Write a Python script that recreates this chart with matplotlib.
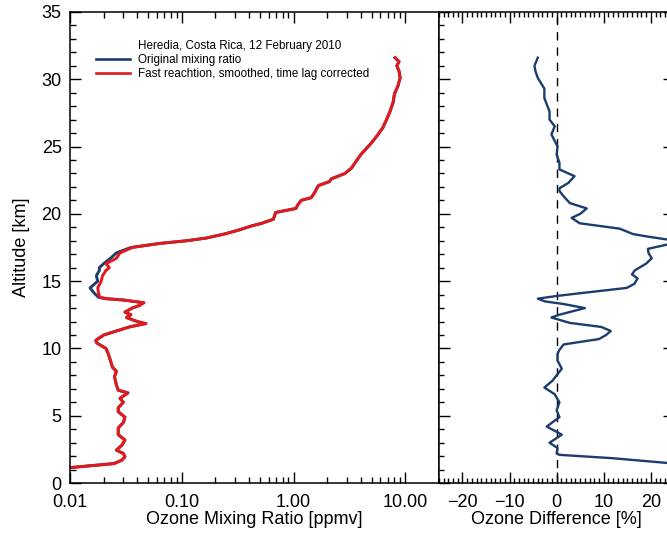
import matplotlib
matplotlib.use("Agg")
import matplotlib.pyplot as plt
from matplotlib.lines import Line2D
from matplotlib.ticker import MultipleLocator, FixedLocator, NullFormatter

plt.rcParams["font.family"] = ["Liberation Sans", "DejaVu Sans"]

# Left panel: ozone mixing ratio profiles [ppmv] versus altitude [km]
alt_mix = [1.15, 1.30, 1.45, 1.70, 1.95, 2.20, 2.45, 2.80, 3.20, 3.60,
           4.10, 4.50, 4.90, 5.30, 5.60, 6.00, 6.30, 6.70, 6.90, 7.30,
           7.90, 8.30, 8.60, 9.10, 9.60, 10.0, 10.4, 10.6, 11.0, 11.3,
           11.6, 11.85, 12.0, 12.3, 12.5, 12.7, 13.0, 13.2, 13.4, 13.6,
           13.7, 13.8, 14.1, 14.5, 15.0, 15.4, 15.8, 16.0, 16.3, 16.7,
           17.1, 17.5, 17.8, 18.0, 18.2, 18.5, 18.8, 19.1, 19.3, 19.6,
           19.9, 20.1, 20.4, 20.7, 21.0, 21.2, 21.6, 22.1, 22.4, 22.6,
           23.0, 23.4, 24.0, 24.4, 25.2, 25.8, 26.4, 27.0, 27.6, 28.3,
           28.9, 29.5, 30.1, 30.6, 31.0, 31.3, 31.6]
o3_fast = [0.0100, 0.0160, 0.0250, 0.0290, 0.0310, 0.0300, 0.0260, 0.0290, 0.0310, 0.0270,
           0.0270, 0.0300, 0.0310, 0.0270, 0.0270, 0.0300, 0.0280, 0.0330, 0.0270, 0.0260,
           0.0250, 0.0260, 0.0240, 0.0230, 0.0220, 0.0210, 0.0174, 0.0170, 0.0200, 0.0260,
           0.0340, 0.0480, 0.0400, 0.0320, 0.0350, 0.0310, 0.0360, 0.0420, 0.0460, 0.0300,
           0.0210, 0.0185, 0.0180, 0.0177, 0.0190, 0.0195, 0.0210, 0.0225, 0.0210, 0.0260,
           0.0280, 0.0360, 0.0630, 0.110, 0.165, 0.240, 0.325, 0.420, 0.520, 0.660,
           0.680, 0.690, 1.05, 1.10, 1.17, 1.44, 1.55, 1.67, 2.10, 2.18,
           2.89, 3.30, 3.70, 4.00, 4.90, 5.60, 6.30, 6.80, 7.30, 7.80,
           8.00, 8.60, 9.00, 8.80, 8.40, 8.80, 8.10]
o3_orig = [0.0100, 0.0155, 0.0245, 0.0290, 0.0310, 0.0300, 0.0260, 0.0290, 0.0310, 0.0270,
           0.0270, 0.0300, 0.0310, 0.0270, 0.0270, 0.0300, 0.0280, 0.0330, 0.0270, 0.0260,
           0.0250, 0.0260, 0.0240, 0.0230, 0.0220, 0.0210, 0.0174, 0.0170, 0.0200, 0.0260,
           0.0340, 0.0470, 0.0400, 0.0320, 0.0350, 0.0310, 0.0360, 0.0420, 0.0450, 0.0300,
           0.0210, 0.0180, 0.0165, 0.0151, 0.0177, 0.0172, 0.0183, 0.0183, 0.0200, 0.0230,
           0.0260, 0.0350, 0.0630, 0.110, 0.165, 0.240, 0.325, 0.420, 0.520, 0.660,
           0.680, 0.690, 1.05, 1.10, 1.17, 1.44, 1.55, 1.67, 2.10, 2.18,
           2.89, 3.30, 3.70, 4.00, 4.90, 5.60, 6.30, 6.80, 7.30, 7.80,
           8.00, 8.60, 9.00, 8.80, 8.40, 8.80, 8.10]

# Right panel: ozone difference [%]
alt_diff = [1.35, 1.50, 1.85, 2.10, 2.20, 2.60, 3.00, 3.60, 4.20, 4.90,
            5.40, 6.00, 6.60, 7.10, 7.60, 8.00, 8.50, 9.10, 9.60, 9.90,
            10.3, 10.7, 11.0, 11.3, 11.6, 11.9, 12.3, 12.5, 13.0, 13.3,
            13.5, 13.7, 13.9, 14.1, 14.5, 14.8, 15.2, 15.5, 15.8, 16.3,
            16.7, 17.1, 17.4, 17.8, 17.95, 18.1, 18.3, 18.5, 18.9, 19.3,
            19.7, 20.0, 20.4, 20.8, 21.3, 21.7, 21.9, 22.3, 22.8, 23.3,
            23.8, 24.4, 25.0, 25.9, 26.5, 27.0, 27.6, 28.6, 29.3, 30.1,
            30.6, 31.0, 31.6]
o3_diff = [35.0, 23.4, 11.9, 0.6, 0.0, 0.2, -1.5, 1.1, -2.1, 0.6,
           0.0, 0.6, -0.4, -2.6, -0.9, 0.0, 1.1, 0.2, 0.2, 0.6,
           1.5, 9.0, 10.5, 11.5, 9.5, 2.8, -1.1, 0.5, 6.0, 1.5,
           -2.5, -4.0, 0.0, 4.9, 14.9, 16.5, 17.2, 16.0, 16.6, 19.0,
           20.2, 19.5, 19.4, 24.5, 26.0, 23.4, 19.5, 16.2, 13.4, 4.9,
           3.2, 5.0, 6.4, 2.8, 1.5, 0.6, 0.6, 2.5, 3.8, 0.6,
           0.6, 0.0, 0.2, -1.1, -0.4, -1.5, -1.5, -2.6, -2.6, -4.0,
           -4.5, -4.7, -4.0]

legend_title = "Heredia, Costa Rica, 12 February 2010"
label_orig = "Original mixing ratio"
label_fast = "Fast reachtion, smoothed, time lag corrected"

blue = "#1b3d6d"
red = "#e3191c"

fig = plt.figure(figsize=(6.67, 5.41), dpi=100)
ax1 = fig.add_axes([0.105, 0.107, 0.553, 0.871])
ax2 = fig.add_axes([0.658, 0.107, 0.353, 0.871])

# left panel
ax1.plot(o3_orig, alt_mix, color=blue, lw=2.1)
ax1.plot(o3_fast, alt_mix, color=red, lw=2.1)
ax1.set_xscale("log")
ax1.set_xlim(0.01, 20)
ax1.set_ylim(0, 35)
ax1.set_xticks([0.01, 0.1, 1, 10])
ax1.set_xticklabels(["0.01", "0.10", "1.00", "10.00"])
ax1.xaxis.set_minor_formatter(NullFormatter())
ax1.yaxis.set_major_locator(MultipleLocator(5))
ax1.yaxis.set_minor_locator(MultipleLocator(1))
ax1.tick_params(which="both", direction="in", top=True, right=False,
                labelsize=13, width=1.0)
ax1.tick_params(which="major", length=8)
ax1.tick_params(which="minor", length=4.5)
ax1.tick_params(axis="x", pad=8)
ax1.tick_params(axis="y", pad=6)
ax1.set_xlabel("Ozone Mixing Ratio [ppmv]", fontsize=13, labelpad=0)
ax1.set_ylabel("Altitude [km]", fontsize=13, labelpad=8)

handles = [Line2D([], [], color="none"),
           Line2D([], [], color=blue, lw=1.9),
           Line2D([], [], color=red, lw=1.9)]
ax1.legend(handles, [legend_title, label_orig, label_fast],
           loc="upper left", bbox_to_anchor=(0.07, 0.94), frameon=False,
           fontsize=8.4, handlelength=2.9, handletextpad=0.75,
           labelspacing=0.16, borderpad=0, borderaxespad=0)

# right panel
ax2.axvline(0, color="black", lw=1.0, ls=(0, (6, 5)))
ax2.plot(o3_diff, alt_diff, color=blue, lw=1.7)
ax2.set_xlim(-25, 25)
ax2.set_ylim(0, 35)
ax2.xaxis.set_major_locator(FixedLocator([-20, -10, 0, 10, 20]))
ax2.xaxis.set_minor_locator(MultipleLocator(1))
ax2.yaxis.set_major_locator(MultipleLocator(5))
ax2.yaxis.set_minor_locator(MultipleLocator(1))
ax2.set_yticklabels([])
ax2.tick_params(which="both", direction="in", top=True, right=True,
                left=True, labelsize=13, width=1.0)
ax2.tick_params(which="major", length=8)
ax2.tick_params(which="minor", length=3.5)
ax2.tick_params(axis="x", pad=8)
ax2.set_xlabel("Ozone Difference [%]", fontsize=13, labelpad=0)

for ax in (ax1, ax2):
    for sp in ax.spines.values():
        sp.set_linewidth(1.1)

fig.savefig("out.png", dpi=100)
